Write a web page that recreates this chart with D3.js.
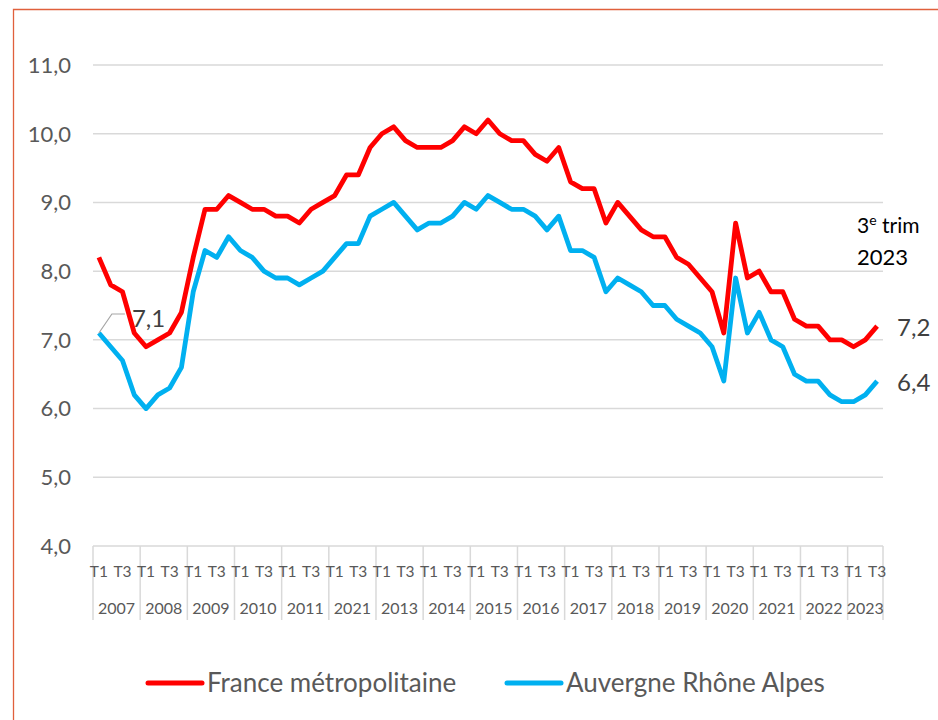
<!DOCTYPE html>
<html>
<head>
<meta charset="utf-8">
<script src="https://cdn.jsdelivr.net/npm/d3@7"></script>
<style>
    body { margin: 0; background: #ffffff; }
    svg { display: block; font-family: Lato, "Liberation Sans", sans-serif; }
</style>
</head>
<body>
<svg id="canvas" width="938" height="720"></svg>
<script>
// Define and Initialise Variables
let years = ['2007', '2008', '2009', '2010', '2011', '2012', '2013', '2014', '2015',
    '2016', '2017', '2018', '2019', '2020', '2021', '2022', '2023'];
// year labels as printed on the chart (2012 is written 2021)
let yearLabels = ['2007', '2008', '2009', '2010', '2011', '2021', '2013', '2014', '2015',
    '2016', '2017', '2018', '2019', '2020', '2021', '2022', '2023'];
let quarters = ['T1', 'T2', 'T3', 'T4'];
let lastYearQuarters = 3;

let franceMetro = [
    8.2, 7.8, 7.7, 7.1, 6.9, 7.0, 7.1, 7.4, 8.2, 8.9, 8.9, 9.1, 9.0, 8.9, 8.9, 8.8,
    8.8, 8.7, 8.9, 9.0, 9.1, 9.4, 9.4, 9.8, 10.0, 10.1, 9.9, 9.8, 9.8, 9.8, 9.9, 10.1,
    10.0, 10.2, 10.0, 9.9, 9.9, 9.7, 9.6, 9.8, 9.3, 9.2, 9.2, 8.7, 9.0, 8.8, 8.6, 8.5,
    8.5, 8.2, 8.1, 7.9, 7.7, 7.1, 8.7, 7.9, 8.0, 7.7, 7.7, 7.3, 7.2, 7.2, 7.0, 7.0,
    6.9, 7.0, 7.2
];
let auvergneRA = [
    7.1, 6.9, 6.7, 6.2, 6.0, 6.2, 6.3, 6.6, 7.7, 8.3, 8.2, 8.5, 8.3, 8.2, 8.0, 7.9,
    7.9, 7.8, 7.9, 8.0, 8.2, 8.4, 8.4, 8.8, 8.9, 9.0, 8.8, 8.6, 8.7, 8.7, 8.8, 9.0,
    8.9, 9.1, 9.0, 8.9, 8.9, 8.8, 8.6, 8.8, 8.3, 8.3, 8.2, 7.7, 7.9, 7.8, 7.7, 7.5,
    7.5, 7.3, 7.2, 7.1, 6.9, 6.4, 7.9, 7.1, 7.4, 7.0, 6.9, 6.5, 6.4, 6.4, 6.2, 6.1,
    6.1, 6.2, 6.4
];
let yTicks = [4, 5, 6, 7, 8, 9, 10, 11];
let seriesNames = ['France métropolitaine', 'Auvergne Rhône Alpes'];
let seriesColors = ['#ff0000', '#00b0f0'];

let canvas = d3.select('#canvas');
let fmt = (v) => d3.format('.1f')(v).replace('.', ',');

// Build the category list (one per quarter)
let categories = [];
years.forEach((y, yi) => {
    let n = (yi === years.length - 1) ? lastYearQuarters : 4;
    for (let q = 0; q < n; q++) {
        categories.push({ key: y + '-' + quarters[q], year: yi, q: q });
    }
});

// Scales
let xScale = d3.scaleBand()
    .domain(categories.map((c) => c.key))
    .range([93, 883])
    .padding(0);
let xMid = (i) => xScale(categories[i].key) + xScale.bandwidth() / 2;
let yScale = d3.scaleLinear().domain([4, 11]).range([546, 65]);

// Frame
canvas.append('path')
    .attr('d', 'M13.5,720 L13.5,9.5 L938,9.5')
    .attr('fill', 'none')
    .attr('stroke', '#e0603c')
    .attr('stroke-width', 1.3);

// Gridlines and y labels
canvas.append('g')
    .selectAll('line')
    .data(yTicks)
    .enter()
    .append('line')
    .attr('x1', 93)
    .attr('x2', 883)
    .attr('y1', (d) => yScale(d))
    .attr('y2', (d) => yScale(d))
    .attr('stroke', '#d9d9d9')
    .attr('stroke-width', 1.5);

canvas.append('g')
    .selectAll('text')
    .data(yTicks)
    .enter()
    .append('text')
    .attr('x', 71)
    .attr('y', (d) => yScale(d))
    .attr('dy', '0.36em')
    .attr('text-anchor', 'end')
    .attr('font-size', 22)
    .attr('fill', '#595959')
    .text((d) => fmt(d));

// X axis: year separators, quarter labels, year labels
let yearStarts = categories.filter((c) => c.q === 0);
let sepX = yearStarts.map((c) => xScale(c.key)).concat([xScale.range()[1]]);
canvas.append('g')
    .selectAll('line')
    .data(sepX)
    .enter()
    .append('line')
    .attr('x1', (d) => d)
    .attr('x2', (d) => d)
    .attr('y1', 546)
    .attr('y2', 620)
    .attr('stroke', '#d9d9d9')
    .attr('stroke-width', 1.5);

canvas.append('g')
    .selectAll('text')
    .data(categories.filter((c) => c.q % 2 === 0))
    .enter()
    .append('text')
    .attr('x', (c) => xScale(c.key) + xScale.bandwidth() / 2)
    .attr('y', 577)
    .attr('text-anchor', 'middle')
    .attr('font-size', 15.5)
    .attr('fill', '#595959')
    .text((c) => quarters[c.q]);

canvas.append('g')
    .selectAll('text')
    .data(years)
    .enter()
    .append('text')
    .attr('x', (y, i) => (sepX[i] + sepX[i + 1]) / 2)
    .attr('y', 614)
    .attr('text-anchor', 'middle')
    .attr('font-size', 16)
    .attr('fill', '#595959')
    .text((y, i) => yearLabels[i]);

// Draw Lines
let line = d3.line()
    .x((d, i) => xMid(i))
    .y((d) => yScale(d));

[franceMetro, auvergneRA].forEach((series, s) => {
    canvas.append('path')
        .datum(series)
        .attr('d', line)
        .attr('fill', 'none')
        .attr('stroke', seriesColors[s])
        .attr('stroke-width', 4.8)
        .attr('stroke-linejoin', 'round');
});

// Data labels
let first = auvergneRA[0];
canvas.append('path')
    .attr('d', 'M' + xMid(0) + ',' + yScale(first) + ' L' + (xMid(0) + 13) + ',' + (yScale(first) - 19)
        + ' L' + (xMid(0) + 26) + ',' + (yScale(first) - 19))
    .attr('fill', 'none')
    .attr('stroke', '#a6a6a6')
    .attr('stroke-width', 1.2);
canvas.append('text')
    .attr('x', xMid(0) + 33)
    .attr('y', yScale(first) - 15)
    .attr('dy', '0.36em')
    .attr('font-size', 24)
    .attr('fill', '#404040')
    .text(fmt(first));

let last = categories.length - 1;
[franceMetro, auvergneRA].forEach((series) => {
    canvas.append('text')
        .attr('x', xMid(last) + 20)
        .attr('y', yScale(series[last]) + 1.5)
        .attr('dy', '0.36em')
        .attr('font-size', 24)
        .attr('fill', '#404040')
        .text(fmt(series[last]));
});

// Period annotation
let note = canvas.append('text')
    .attr('x', 857)
    .attr('y', 233)
    .attr('font-size', 21)
    .attr('fill', '#000000');
note.append('tspan').text('3');
note.append('tspan').attr('dy', -8).attr('font-size', 14).text('e');
note.append('tspan').attr('dy', 8).text(' trim');
canvas.append('text')
    .attr('x', 857)
    .attr('y', 265)
    .attr('font-size', 22)
    .attr('fill', '#000000')
    .text(years[years.length - 1]);

// Legend
let legendX = [148, 507];
seriesNames.forEach((name, s) => {
    canvas.append('line')
        .attr('x1', legendX[s])
        .attr('x2', legendX[s] + 54)
        .attr('y1', 683)
        .attr('y2', 683)
        .attr('stroke', seriesColors[s])
        .attr('stroke-width', 5)
        .attr('stroke-linecap', 'round');
    canvas.append('text')
        .attr('x', legendX[s] + 59)
        .attr('y', 692)
        .attr('font-size', 26)
        .attr('fill', '#595959')
        .text(name);
});
</script>
</body>
</html>
